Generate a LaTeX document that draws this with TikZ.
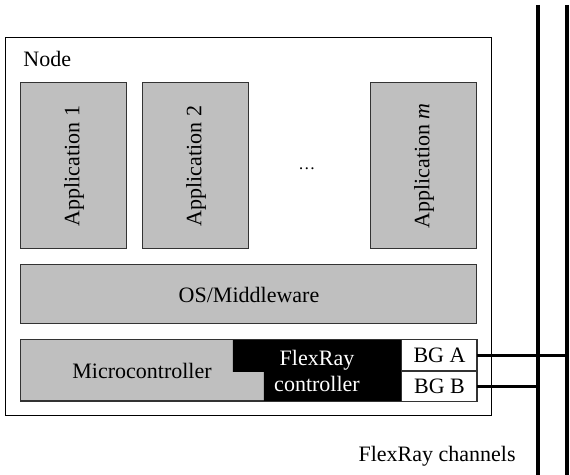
\documentclass[tikz,border=0pt]{standalone}
\usepackage{fontspec}
\setmainfont{Liberation Serif}
\usetikzlibrary{positioning}
\begin{document}
\begin{tikzpicture}[
  x=0.5pt, y=-0.5pt,
  font=\fontsize{11}{13}\selectfont,
  layer/.style={draw=black!80, fill=black!25, line width=0.5pt, inner sep=0pt},
  app/.style={layer, rotate=90, minimum width=83pt, minimum height=53pt},
  bg/.style={draw=black!80, fill=white, line width=0.5pt, minimum width=37.5pt, minimum height=15.25pt, inner sep=0pt},
  bus/.style={line width=1.6pt},
  link/.style={line width=1.4pt}
]
\useasboundingbox (0,0) rectangle (570,475);
\node[draw, line width=0.5pt, minimum width=243pt, minimum height=189pt] (node) at (248.5,227) {};
\node[anchor=base west, inner sep=0pt] (nodelabel) at (23,67) {Node};
% applications
\node[app] (app1) at (74,166) {Application 1};
\node[app] (app2) at (196,166) {Application 2};
\node[font=\fontsize{8.5}{10}\selectfont] (dots) at (307,169) {\dots};
\node[app] (appm) at (424,166) {Application \textit{m}};
\node[layer, minimum width=228pt, minimum height=29.5pt] (os) at (249,294.5) {OS/Middleware};
% controller row
\node[layer, minimum width=228pt, minimum height=30.5pt] (mcu) at (249,370.5) {};
\fill (233,340) -- (401,340) -- (401,401) -- (264,401) -- (264,372) -- (233,372) -- cycle;
\draw[draw=black!80, line width=0.5pt] (mcu.north west) rectangle (mcu.south east);
\node (mculabel) at (142,371) {Microcontroller};
\node[text=white, align=center] (frc) at (317,371) {FlexRay\\controller};
\node[bg] (bga) at (439.5,355.25) {BG A};
\node[bg, below=0pt of bga] (bgb) {BG B};
% channels
\coordinate (chA top) at (567,5);
\coordinate (chA bot) at (567,475);
\coordinate (chB top) at (538,5);
\coordinate (chB bot) at (538,475);
\draw[bus] (chA top) -- (chA bot);
\draw[bus] (chB top) -- (chB bot);
\draw[link] (bga.east) -- (bga.east -| chA top);
\draw[link] (bgb.east) -- (bgb.east -| chB top);
\node[anchor=base east, inner sep=0pt] (chlabel) at (516,462) {FlexRay channels};
\end{tikzpicture}
\end{document}
